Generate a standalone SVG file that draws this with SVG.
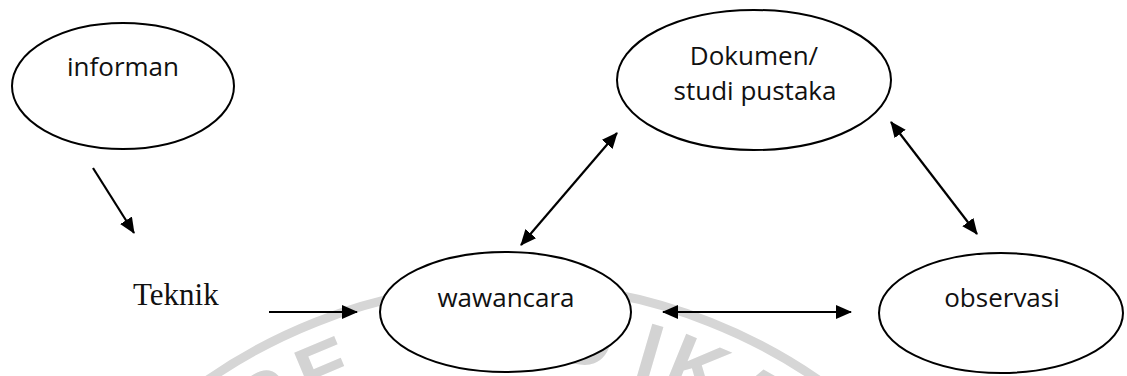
<svg xmlns="http://www.w3.org/2000/svg" width="1127" height="376" viewBox="0 0 1127 376">
  <style>
    .node ellipse { fill: #ffffff; stroke: #000000; stroke-width: 2; }
    .label { font-family: "Open Sans", "Noto Sans", "DejaVu Sans", sans-serif; font-size: 26px; fill: #111111; text-anchor: middle; }
    .serif { font-family: "Liberation Serif", "Times New Roman", serif; font-size: 31px; fill: #111111; }
    .conn line { stroke: #000000; stroke-width: 2.2; fill: none; }
    .wm { fill: #d3d3d3; font-family: "Liberation Sans", Arial, sans-serif; font-weight: bold; font-size: 80px; text-anchor: middle; }
  </style>
  <defs>
    <marker id="head" viewBox="0 0 16 14" refX="15" refY="7" markerWidth="16" markerHeight="14" markerUnits="userSpaceOnUse" orient="auto-start-reverse">
      <path d="M0,0 L16,7 L0,14 z" fill="#000000"/>
    </marker>
  </defs>

  <rect width="1127" height="376" fill="#ffffff"/>

  <!-- faint background seal -->
  <g id="watermark">
    <circle cx="513" cy="820.6" r="536" fill="none" stroke="#d6d6d6" stroke-width="9"/>
    <text class="wm" x="513" y="359.6" transform="rotate(-30.5 513 820.6)">P</text>
    <text class="wm" x="513" y="359.6" transform="rotate(-22.7 513 820.6)">E</text>
    <text class="wm" x="513" y="359.6" transform="rotate(8.5 513 820.6)">D</text>
    <text class="wm" x="513" y="359.6" transform="rotate(16.3 513 820.6)">I</text>
    <text class="wm" x="513" y="359.6" transform="rotate(22.2 513 820.6)">K</text>
    <text class="wm" x="513" y="359.6" transform="rotate(29.8 513 820.6)">A</text>
  </g>

  <g id="node-informan" class="node">
    <ellipse cx="123" cy="86" rx="111" ry="63"/>
    <text class="label" x="123" y="76">informan</text>
  </g>

  <g id="node-dokumen" class="node">
    <ellipse cx="754" cy="80" rx="137" ry="70"/>
    <text class="label" x="754" y="65">Dokumen/</text>
    <text class="label" x="755" y="100">studi pustaka</text>
  </g>

  <g id="node-teknik">
    <text class="serif" x="133" y="305">Teknik</text>
  </g>

  <g id="node-wawancara" class="node">
    <ellipse cx="505.5" cy="312" rx="125.5" ry="60"/>
    <text class="label" x="506" y="307">wawancara</text>
  </g>

  <g id="node-observasi" class="node">
    <ellipse cx="1001" cy="313" rx="122" ry="60"/>
    <text class="label" x="1002" y="307">observasi</text>
  </g>

  <g id="connectors" class="conn">
    <line x1="93" y1="168" x2="134" y2="233" marker-end="url(#head)"/>
    <line x1="269" y1="312" x2="357" y2="312" marker-end="url(#head)"/>
    <line x1="521" y1="245" x2="617" y2="133" marker-start="url(#head)" marker-end="url(#head)"/>
    <line x1="891" y1="122" x2="977" y2="234" marker-start="url(#head)" marker-end="url(#head)"/>
    <line x1="663" y1="312" x2="851" y2="312" marker-start="url(#head)" marker-end="url(#head)"/>
  </g>
</svg>
